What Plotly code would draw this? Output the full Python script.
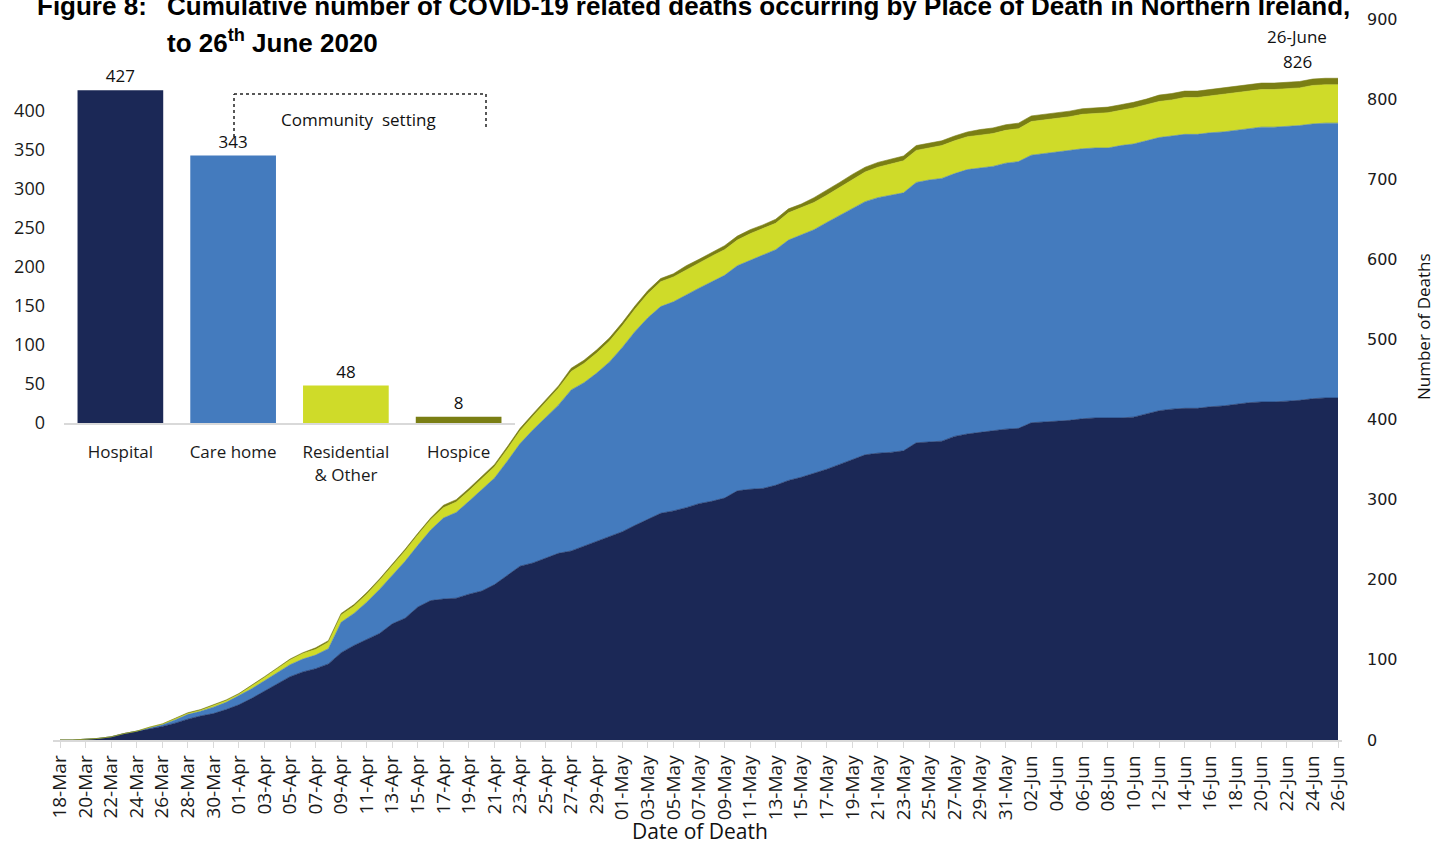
import pandas as pd
import plotly.graph_objects as go

# ---------------- data ----------------
start_date = "2020-03-18"
end_date = "2020-06-26"
dates = pd.date_range(start_date, end_date, freq="D")

# cumulative deaths by place of death
hospital = [0, 0, 1, 2, 4, 8, 11, 14, 17, 21, 26, 30, 33, 38, 44, 52, 61, 70, 79, 85,
            89, 95, 109, 118, 125, 133, 145, 152, 166, 174, 176, 177, 182, 186, 194, 205, 217, 221, 227, 233,
            236, 242, 248, 254, 260, 268, 276, 283, 286, 290, 295, 298, 302, 311, 313, 314, 318, 324, 328, 333,
            338, 344, 350, 356, 358, 359, 361, 371, 372, 373, 379, 382, 384, 386, 388, 389, 396, 397, 398, 399,
            401, 402, 402, 402, 403, 407, 411, 413, 414, 414, 416, 417, 419, 421, 422, 422, 423, 424, 426, 427,
            427]
care_home = [0, 0, 0, 0, 0, 0, 0, 1, 2, 4, 6, 6, 8, 9, 11, 12, 13, 14, 15, 16,
             17, 19, 38, 40, 47, 55, 60, 71, 77, 88, 101, 107, 116, 126, 133, 143, 153, 166, 176, 185,
             201, 204, 210, 218, 230, 242, 251, 258, 261, 266, 269, 274, 278, 281, 286, 291, 294, 300, 302, 304,
             308, 311, 314, 316, 319, 321, 322, 325, 327, 328, 328, 330, 330, 330, 332, 333, 334, 335, 336, 337,
             337, 337, 337, 340, 341, 341, 341, 341, 342, 342, 342, 342, 342, 342, 343, 343, 343, 343, 343, 343,
             343]
residential = [0, 0, 0, 0, 0, 0, 0, 1, 1, 1, 1, 1, 2, 2, 2, 3, 4, 5, 6, 7,
               7, 8, 9, 9, 10, 11, 12, 13, 13, 13, 13, 13, 13, 14, 14, 15, 16, 17, 19, 21,
               23, 24, 25, 26, 27, 28, 30, 31, 31, 31, 31, 32, 32, 32, 33, 33, 33, 34, 34, 34,
               34, 35, 36, 37, 38, 39, 40, 40, 40, 41, 41, 41, 41, 41, 41, 41, 42, 42, 42, 42,
               43, 43, 44, 44, 45, 45, 45, 45, 46, 46, 46, 47, 47, 47, 47, 47, 47, 47, 48, 48,
               48]
hospice = [0, 0, 0, 0, 0, 0, 0, 0, 0, 1, 1, 1, 1, 1, 1, 1, 1, 1, 1, 1,
           2, 2, 2, 2, 2, 2, 2, 2, 2, 2, 3, 3, 3, 3, 3, 3, 3, 3, 3, 3,
           4, 4, 4, 4, 4, 4, 4, 4, 4, 5, 5, 5, 5, 5, 5, 5, 5, 5, 5, 6,
           6, 6, 6, 6, 6, 6, 6, 6, 6, 6, 6, 6, 7, 7, 7, 7, 7, 7, 7, 7,
           7, 7, 7, 7, 7, 7, 8, 8, 8, 8, 8, 8, 8, 8, 8, 8, 8, 8, 8, 8,
           8]

series_names = ["Hospital", "Care home", "Residential & Other", "Hospice"]
bar_categories = ["Hospital", "Care home", "Residential<br>& Other", "Hospice"]
colors = ["#1b2856", "#447bbe", "#cfdb29", "#7a7e14"]

title_line1 = "Cumulative number of COVID-19 related deaths occurring by Place of Death in Northern Ireland,"
title_line2 = "to 26<sup>th</sup> June 2020"

# ---------------- geometry helpers ----------------
W, H = 1432, 845
PL, PR, PT, PB = 53, 1342, 19, 740


def px(x):
    return (x - PL) / (PR - PL)


def py(y):
    return (PB - y) / (PB - PT)


day_px = (1338 - 60) / (len(dates) - 1)
x_start = dates[0] - pd.Timedelta(days=(60 - PL) / day_px)
x_end = dates[0] + pd.Timedelta(days=(PR - 60) / day_px)

fig = go.Figure()

series = [hospital, care_home, residential, hospice]
for name, vals, col in zip(series_names, series, colors):
    fig.add_trace(go.Scatter(
        x=dates, y=vals, name=name, mode="lines", stackgroup="one",
        line=dict(color=col, width=0.6), fillcolor=col, showlegend=False,
        hoverinfo="skip", xaxis="x", yaxis="y"))

totals = [a + b + c + d for a, b, c, d in zip(hospital, care_home, residential, hospice)]

bar_values = [s[-1] for s in series]
fig.add_trace(go.Bar(
    x=bar_categories, y=bar_values, marker=dict(color=colors, line=dict(width=0)),
    text=[str(v) for v in bar_values], textposition="outside", cliponaxis=False,
    textfont=dict(family="Open Sans", size=17, color="#111111"),
    hoverinfo="skip", xaxis="x2", yaxis="y2", showlegend=False))

tick_font = dict(family="Open Sans", size=19, color="#1a1a1a")

fig.update_layout(
    width=W, height=H,
    margin=dict(l=PL, r=W - PR, t=PT, b=H - PB, autoexpand=False),
    paper_bgcolor="white", plot_bgcolor="rgba(0,0,0,0)",
    bargap=0.24,
    showlegend=False,
    xaxis=dict(
        type="date", range=[x_start, x_end], domain=[0, 1],
        tick0=start_date, dtick=2 * 86400000, tickformat="%d-%b", tickangle=-90,
        tickfont=tick_font, ticks="outside", ticklen=6, tickcolor="#d9d9d9",
        showline=True, linecolor="#d9d9d9", linewidth=1.5,
        showgrid=False, zeroline=False, automargin=False),
    yaxis=dict(
        side="right", range=[0, 900], dtick=100, domain=[0, 1],
        tickfont=dict(family="DejaVu Sans", size=16, color="#1a1a1a"),
        ticklabelstandoff=24, showgrid=False, zeroline=False, showline=False,
        ticks="", automargin=False),
    xaxis2=dict(
        type="category", domain=[px(64), px(515)], anchor="y2",
        tickfont=dict(family="Open Sans", size=17, color="#1a1a1a"),
        showline=True, linecolor="#d9d9d9", linewidth=2, ticks="",
        ticklabelstandoff=13, showgrid=False, zeroline=False, automargin=False),
    yaxis2=dict(
        range=[0, 440], domain=[py(423), py(80)], anchor="x2",
        tickvals=[0, 50, 100, 150, 200, 250, 300, 350, 400],
        tickfont=dict(family="Open Sans", size=18, color="#1a1a1a"),
        ticklabelstandoff=18, showgrid=False, zeroline=False, showline=False,
        ticks="", automargin=False),
)

# bracket marking the community setting
bracket = dict(type="line", xref="paper", yref="paper",
               line=dict(color="#222222", width=1.5, dash="dot"))
fig.add_shape(**bracket, x0=px(234), y0=py(137), x1=px(234), y1=py(94))
fig.add_shape(**bracket, x0=px(234), y0=py(94), x1=px(486), y1=py(94))
fig.add_shape(**bracket, x0=px(486), y0=py(94), x1=px(486), y1=py(128))

ann = []
ann.append(dict(x=px(358), y=py(119), text="Community  setting",
                font=dict(family="Open Sans", size=17, color="#111111")))
ann.append(dict(x=px(35), y=py(6), text="<b>Figure 8:</b>", xanchor="left",
                font=dict(family="Liberation Sans Narrow, Liberation Sans", size=26, color="#000000")))
ann.append(dict(x=px(165), y=py(6), text="<b>" + title_line1 + "</b>", xanchor="left",
                font=dict(family="Liberation Sans Narrow, Liberation Sans", size=26, color="#000000")))
ann.append(dict(x=px(165), y=py(42), text="<b>" + title_line2 + "</b>", xanchor="left",
                font=dict(family="Liberation Sans Narrow, Liberation Sans", size=26, color="#000000")))
ann.append(dict(x=px(1297), y=py(37), text=dates[-1].strftime("%d-") + "June",
                font=dict(family="Open Sans", size=17, color="#111111")))
ann.append(dict(x=px(1297), y=py(62), text=str(totals[-1]),
                font=dict(family="Open Sans", size=17, color="#111111")))
ann.append(dict(x=px(700), y=py(831), text="Date of Death",
                font=dict(family="Open Sans", size=21, color="#111111")))
ann.append(dict(x=px(1423), y=py(327), text="Number of Deaths", textangle=-90,
                font=dict(family="Open Sans", size=17, color="#111111")))
for a in ann:
    a.update(xref="paper", yref="paper", showarrow=False)
    a.setdefault("xanchor", "center")
    a.setdefault("yanchor", "middle")
fig.update_layout(annotations=ann)

fig.write_html("out.html", config={"displayModeBar": False},
               post_script="document.body.style.margin='0';document.body.style.overflow='hidden';")
